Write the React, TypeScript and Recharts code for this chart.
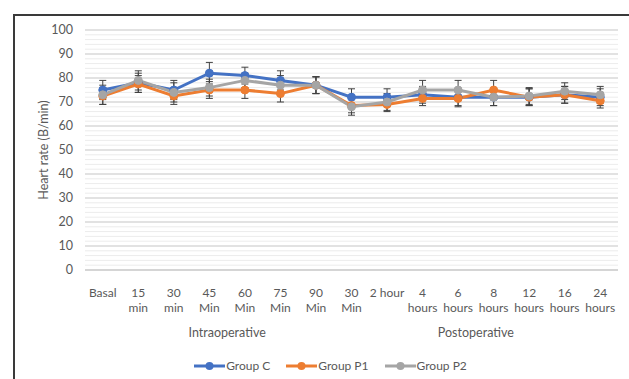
import React from "react";
import {
  LineChart,
  Line,
  XAxis,
  YAxis,
  CartesianGrid,
  ErrorBar,
  ReferenceLine,
} from "recharts";

const tickTop = ["Basal", "15", "30", "45", "60", "75", "90", "30", "2 hour", "4", "6", "8", "12", "16", "24"];
const tickBottom = ["", "min", "min", "Min", "Min", "Min", "Min", "Min", "", "hours", "hours", "hours", "hours", "hours", "hours"];

const groupC = [75, 78, 75, 82, 81, 79, 77, 72, 72, 73, 72, 72, 72, 73, 72];
const groupP1 = [72.5, 77.5, 72.5, 75, 75, 73.5, 77, 68.5, 69, 71.5, 71.5, 75, 72, 73, 70.5];
const groupP2 = [73, 79, 74, 76, 79, 77, 77, 68, 70, 75, 75, 72, 72.5, 74.5, 73];

const errC = [4, 4, 4, 4.5, 3.5, 4, 3.5, 3.5, 3.5, 3.5, 3.5, 3.5, 3.5, 3.5, 3.5];
const errP1 = [3.5, 3.5, 3.5, 3.5, 3.5, 3.5, 3.5, 3, 3, 3, 3.5, 4, 3.5, 3.5, 3];
const errP2 = [4, 4, 4, 3.5, 3, 4, 3.5, 3.5, 3.5, 4, 4, 3.5, 3.5, 3.5, 3.5];

const yTicks = [0, 10, 20, 30, 40, 50, 60, 70, 80, 90, 100];
const minorTicks = [2, 4, 6, 8, 12, 14, 16, 18, 22, 24, 26, 28, 32, 34, 36, 38, 42, 44, 46, 48, 52, 54, 56, 58, 62, 64, 66, 68, 72, 74, 76, 78, 82, 84, 86, 88, 92, 94, 96, 98];

// phase labels: [text, first category, last category]
const phases: [string, number, number][] = [
  ["Intraoperative", 0, 7],
  ["Postoperative", 7, 14],
];

const series = [
  { key: "c", name: "Group C", color: "#4472C4" },
  { key: "p1", name: "Group P1", color: "#ED7D31" },
  { key: "p2", name: "Group P2", color: "#A5A5A5" },
];

const data = tickTop.map((t, i) => ({
  label: `${t} ${tickBottom[i]} ${i}`,
  c: groupC[i],
  p1: groupP1[i],
  p2: groupP2[i],
  ec: errC[i],
  ep1: errP1[i],
  ep2: errP2[i],
}));

const W = 629;
const H = 379;
const M = { top: 30, right: 11, bottom: 0, left: 0 };
const YW = 85;
const band = (W - M.left - M.right - YW) / tickTop.length;
const font = "Lato, 'Noto Sans', sans-serif";
const textColor = "#595959";

function XTick(props: any) {
  const { x, y, payload } = props;
  const i = payload.index;
  const out = [
    <text key="a" x={x} y={y + 19} textAnchor="middle" fill={textColor} fontSize={12} fontFamily={font}>
      {tickTop[i]}
    </text>,
    <text key="b" x={x} y={y + 34} textAnchor="middle" fill={textColor} fontSize={12} fontFamily={font}>
      {tickBottom[i]}
    </text>,
  ];
  phases.forEach(([name, a, b]) => {
    if (i === a) {
      const cx = x + ((b - a) * band) / 2;
      out.push(
        <text key={name} x={cx} y={y + 59} textAnchor="middle" fill={textColor} fontSize={12.5} fontFamily={font}>
          {name}
        </text>
      );
    }
  });
  return <g>{out}</g>;
}

export default function App() {
  return (
    <div style={{ position: "fixed", left: 0, top: 0, width: W, height: H, background: "#fff" }}>
      <div
        style={{
          position: "absolute",
          left: 13,
          top: 14,
          right: 0,
          bottom: 0,
          borderLeft: "2px solid #3a3a3a",
          borderTop: "2px solid #3a3a3a",
        }}
      />
      <div style={{ position: "absolute", left: 0, top: 0 }}>
        <LineChart width={W} height={H} data={data} margin={M}>
          {minorTicks.map((v) => (
            <ReferenceLine key={v} y={v} stroke="#ececec" strokeWidth={1} />
          ))}
          <CartesianGrid vertical={false} stroke="#d9d9d9" strokeWidth={1.5} />
          <XAxis
            dataKey="label"
            scale="band"
            interval={0}
            tick={<XTick />}
            tickLine={false}
            axisLine={{ stroke: "#d0d0d0", strokeWidth: 1.5 }}
            height={109}
          />
          <YAxis
            domain={[0, 100]}
            ticks={yTicks}
            interval={0}
            width={YW}
            tickLine={false}
            axisLine={false}
            tickMargin={6}
            tick={{ fill: textColor, fontSize: 12.5, fontFamily: font }}
            label={{
              value: "Heart rate  (B/min)",
              angle: -90,
              position: "center",
              dx: 1,
              fill: textColor,
              fontSize: 12.5,
              fontFamily: font,
            }}
          />
          {series.map((s) => (
            <Line
              key={s.key}
              type="linear"
              dataKey={s.key}
              name={s.name}
              stroke={s.color}
              strokeWidth={3}
              dot={{ r: 4, fill: s.color, stroke: s.color, strokeWidth: 1 }}
              isAnimationActive={false}
            >
              <ErrorBar dataKey={"e" + s.key} direction="y" width={3.5} stroke="#404040" strokeWidth={1} />
            </Line>
          ))}
        </LineChart>
      </div>
      <div
        style={{
          position: "absolute",
          left: 0,
          top: 358,
          width: W,
          display: "flex",
          justifyContent: "center",
          gap: 16,
          fontFamily: font,
          fontSize: 12,
          color: textColor,
          marginLeft: 16,
        }}
      >
        {series.map((s) => (
          <div key={s.key} style={{ display: "flex", alignItems: "center" }}>
            <svg width={31} height={12}>
              <line x1={0} y1={6} x2={31} y2={6} stroke={s.color} strokeWidth={3} />
              <circle cx={15.5} cy={6} r={4} fill={s.color} />
            </svg>
            <span style={{ marginLeft: 1 }}>{s.name}</span>
          </div>
        ))}
      </div>
    </div>
  );
}
